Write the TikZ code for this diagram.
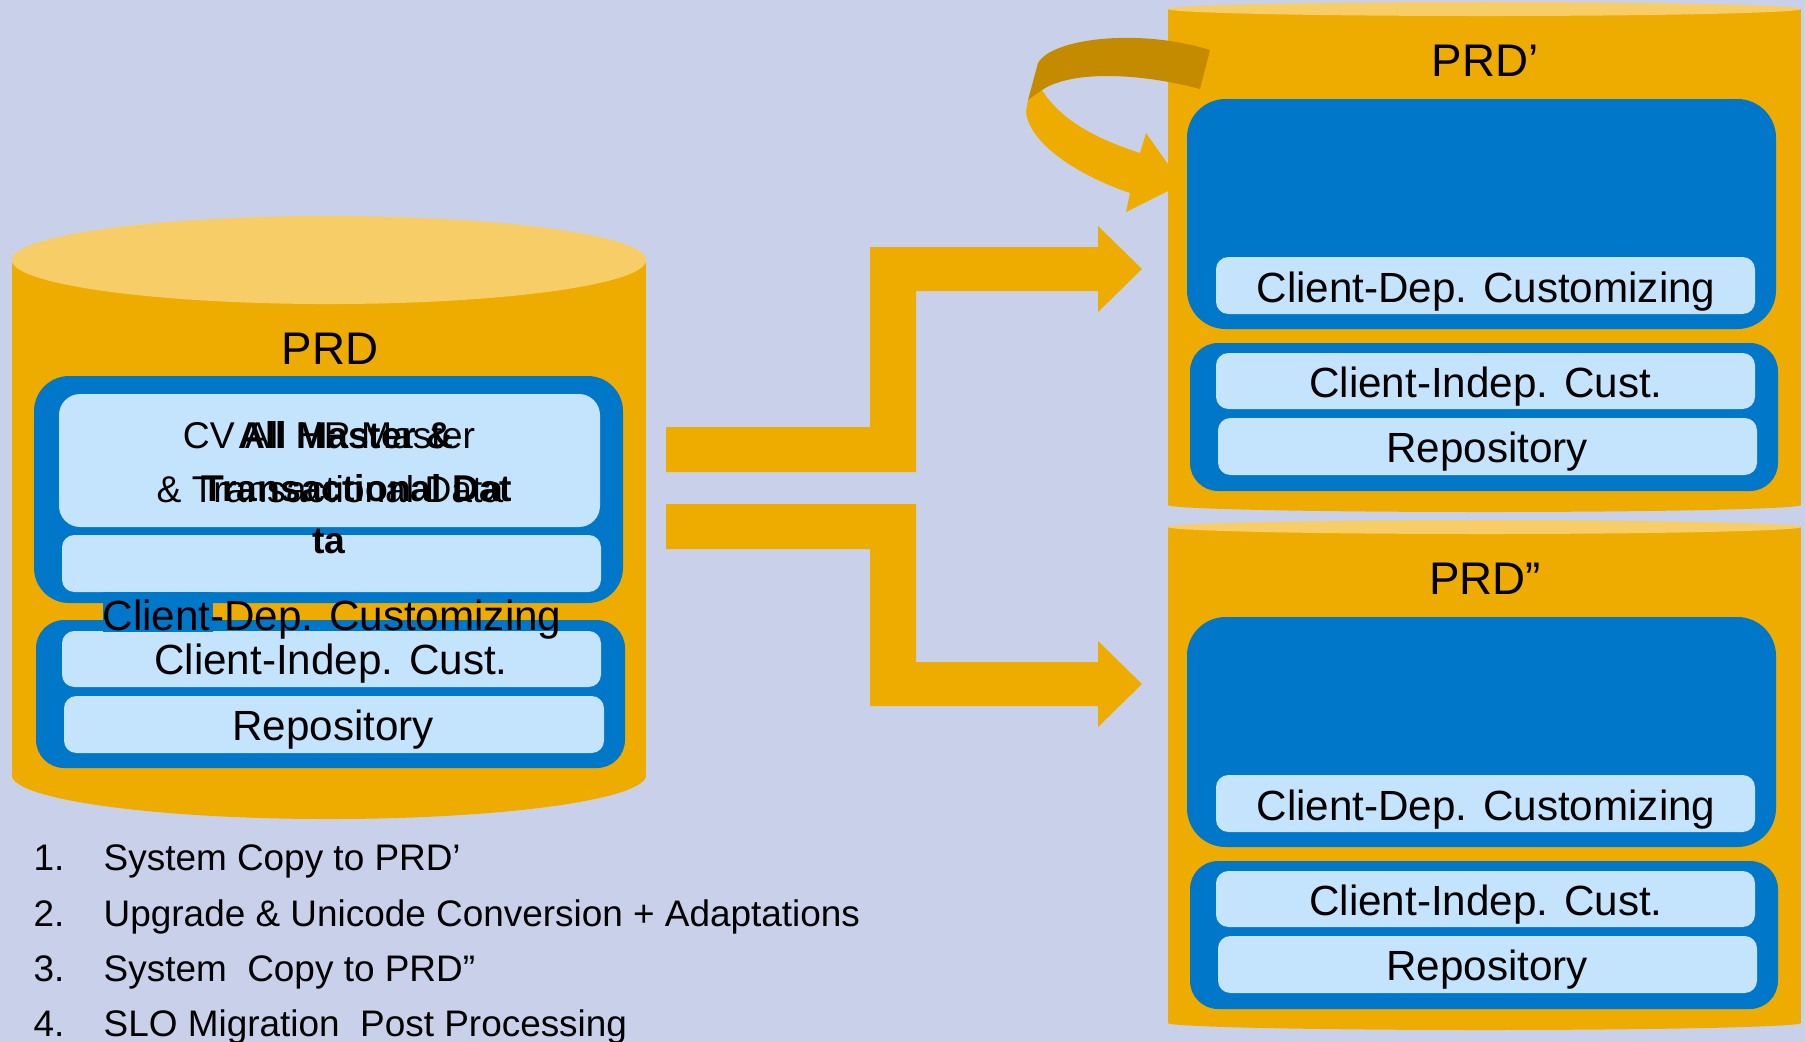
\documentclass[tikz,border=0pt]{standalone}
\usepackage{fontspec}
\setmainfont{Liberation Sans}
\definecolor{bg}{HTML}{C9D1EA}
\definecolor{gold}{HTML}{EFAC00}
\definecolor{goldlight}{HTML}{F6CD66}
\definecolor{golddark}{HTML}{C48A00}
\definecolor{sapblue}{HTML}{0077C8}
\definecolor{paleblue}{HTML}{C4E3FC}

\begin{document}
\begin{tikzpicture}[x=0.01cm,y=-0.01cm,
  txt/.style={anchor=base, inner sep=0pt, text=black},
  lbl/.style={txt, font=\fontsize{12}{14}\selectfont},
  title/.style={txt, font=\fontsize{13}{15}\selectfont},
  small/.style={txt, font=\fontsize{10.6}{12}\selectfont},
  smallb/.style={txt, font=\fontsize{10.6}{12}\selectfont\bfseries},
  item/.style={anchor=base west, inner sep=0pt, font=\fontsize{10.5}{12}\selectfont},
  outerbox/.style={fill=sapblue, rounded corners=11pt},
  lowerbox/.style={fill=sapblue, rounded corners=8pt},
  layer/.style={fill=paleblue, rounded corners=3.5pt}]

% canvas
\fill[bg] (0,0) rectangle (1805,1042);
\useasboundingbox (0,0) rectangle (1805,1042);

% ---------- looping arrow beside PRD': lower half, tip tucked under the drum ----------
\fill[gold] (1042,90) .. controls (1062,122) and (1100,140) .. (1140,153)
  -- (1146,133) -- (1182,184) -- (1126,212) -- (1130,193)
  .. controls (1080,176) and (1030,145) .. (1026,112) -- (1028,100) -- cycle;

% ---------- drum PRD ----------
\fill[gold] (12,260) rectangle (646,775);
\fill[gold] (329,775) ellipse [x radius=3.17cm, y radius=0.44cm];
\fill[goldlight] (329,260) ellipse [x radius=3.17cm, y radius=0.44cm];
\node[title] (prd) at (330,364) {PRD};

\fill[outerbox, rounded corners=10pt] (34,376) rectangle (623,603);
\fill[layer, rounded corners=6pt] (59,394) rectangle (600,527);
\fill[layer] (62,535) rectangle (601,592);
\fill[lowerbox] (36,620) rectangle (625,768);
\fill[layer] (62,631) rectangle (601,687);
\fill[layer] (64,696) rectangle (604,753);
\fill[sapblue] (103,592) rectangle (213,632);

\node[small] (cv1) at (329,448) {CV All HR Master};
\node[small] (cv2) at (330,502) {\& Transactional Data};
\node[smallb] (md1) at (346,448) {All Master \&};
\node[smallb] (md2) at (357,501) {Transactional Dat};
\node[smallb] (md3) at (329,553) {ta};
\node[lbl] (cdc) at (332,630) {Client-Dep. Customizing};
\node[lbl] (cic) at (331,674) {Client-Indep. Cust.};
\node[lbl] (rep) at (333,740) {Repository};

% ---------- drums PRD' and PRD'' ----------
\foreach \d/\name/\lab in {0/a/{PRD’}, 518/b/{PRD”}} {
  \fill[gold] (1168,9+\d) rectangle (1801,505+\d);
  \fill[gold] (1484.5,505+\d) ellipse [x radius=3.165cm, y radius=0.07cm];
  \fill[goldlight] (1484.5,9+\d) ellipse [x radius=3.165cm, y radius=0.07cm];
  \node[title] (title\name) at (1485,76+\d) {\lab};
  \fill[outerbox] (1187,99+\d) rectangle (1776,329+\d);
  \fill[layer] (1216,257+\d) rectangle (1755,314+\d);
  \fill[lowerbox] (1190,343+\d) rectangle (1778,491+\d);
  \fill[layer] (1216,353+\d) rectangle (1755,409+\d);
  \fill[layer] (1218,418+\d) rectangle (1757,475+\d);
  \node[lbl] (cdc\name) at (1486,302+\d) {Client-Dep. Customizing};
  \node[lbl] (cic\name) at (1486,397+\d) {Client-Indep. Cust.};
  \node[lbl] (rep\name) at (1487,462+\d) {Repository};
}

% ---------- looping arrow: upper half, lying over the drum edge ----------
\fill[golddark] (1038,63) .. controls (1052,38) and (1140,28) .. (1210,50)
  -- (1200,89) .. controls (1140,73) and (1072,70) .. (1042,90)
  -- (1028,100) -- cycle;

% ---------- split block arrows ----------
\coordinate (tipA) at (1142,269);
\coordinate (tipB) at (1142,684);
\fill[gold] (666,427) -- (870,427) -- (870,247) -- (1098,247) -- (1098,226)
  -- (tipA) -- (1098,312) -- (1098,291) -- (916,291) -- (916,472)
  -- (666,472) -- cycle;
\fill[gold] (666,504) -- (916,504) -- (916,662) -- (1098,662) -- (1098,641)
  -- (tipB) -- (1098,727) -- (1098,706) -- (870,706) -- (870,549)
  -- (666,549) -- cycle;

% ---------- step list ----------
\foreach \n/\y/\t in {1/870/{System Copy to PRD’},
                      2/926/{Upgrade \& Unicode Conversion + Adaptations},
                      3/981/{System\ \ Copy to PRD”},
                      4/1036/{SLO Migration\ \ Post Processing}} {
  \node[item] (num\n) at (33,\y) {\n.};
  \node[item] (step\n) at (103,\y) {\t};
}
\end{tikzpicture}
\end{document}
